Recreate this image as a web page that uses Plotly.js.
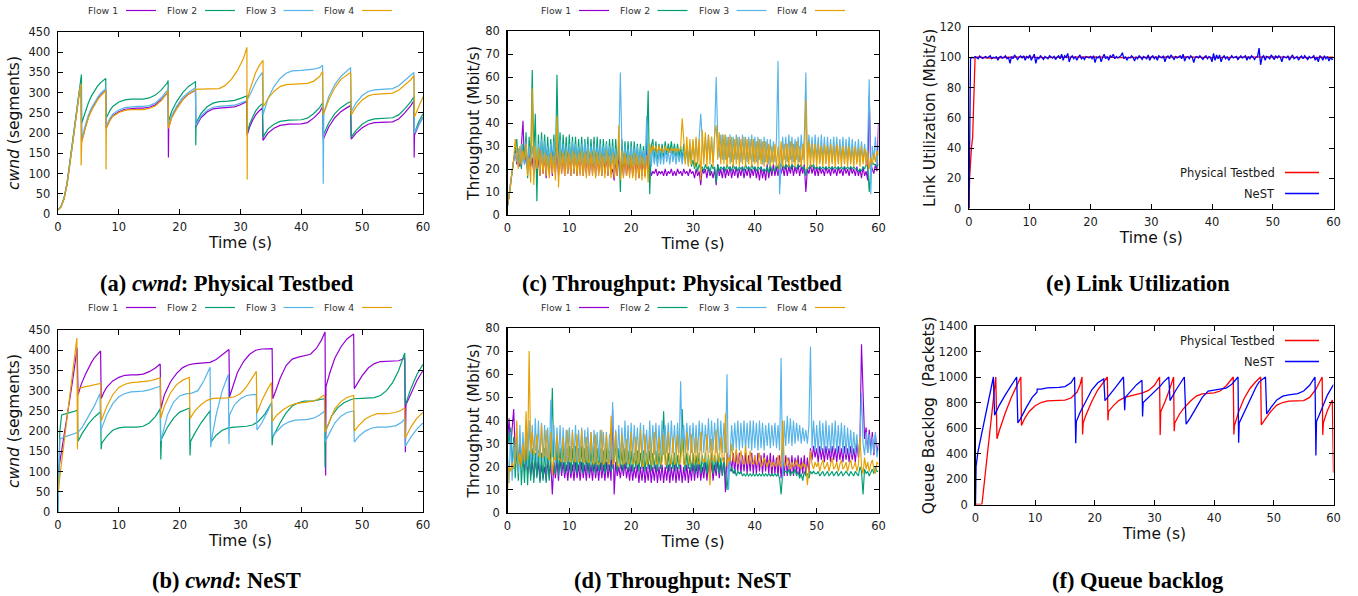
<!DOCTYPE html>
<html>
<head>
<meta charset="utf-8">
<script src="https://cdn.plot.ly/plotly-3.0.1.min.js"></script>
<style>html,body{margin:0;padding:0;background:#fff;}#chart{width:1358px;height:596px;}</style>
</head>
<body>
<div id="chart"></div>
<script>
// ---------------- DATA ----------------
const flowNames = ['Flow 1', 'Flow 2', 'Flow 3', 'Flow 4'];
const utilNames = ['Physical Testbed', 'NeST'];
const xTicks = [0, 10, 20, 30, 40, 50, 60];

// (a) cwnd: Physical Testbed  [time s, cwnd segments]
const aFlow1 = [[0,10],[0.5,18],[1,38],[1.5,75],[2,130],[2.5,190],[3,245],[3.5,300],[3.8,318],[3.9,180],[4.5,215],[5,240],[5.5,258],[6,272],[6.5,284],[7,294],[7.5,301],[7.85,306],[7.9,212],[8.5,232],[9,243],[10,253],[11,259],[12,261],[13,262],[14,262],[15,264],[16,270],[17,283],[18,300],[18.1,303],[18.15,140],[18.2,215],[18.7,240],[19.5,262],[20.5,283],[21.5,297],[22.5,305],[22.6,307],[22.65,215],[23.5,238],[24.5,252],[25.5,260],[26.5,262],[28,263],[29,265],[30,270],[31,276],[31.05,278],[31.1,195],[31.5,215],[32,232],[32.5,245],[33,254],[33.6,262],[33.7,182],[34.5,200],[35.5,212],[36.5,219],[38,222],[40,223],[41,226],[42,237],[43,252],[43.5,265],[43.6,185],[44.5,215],[45.5,238],[46.5,253],[47.5,263],[48.1,268],[48.2,185],[49,200],[50,213],[51,222],[52,226],[54,227],[55,228],[56,235],[57,250],[58,268],[58.5,280],[58.55,140],[58.6,195],[59.3,220],[60,240]];
const aFlow2 = [[0,10],[0.5,19],[1,40],[1.5,78],[2,135],[2.5,195],[3,252],[3.5,310],[3.85,345],[3.9,225],[4.5,255],[5,275],[5.5,292],[6,305],[6.5,316],[7,325],[7.5,331],[7.85,335],[7.9,236],[8.5,255],[9,266],[10,277],[11,282],[12,284],[13,284],[14,284],[15,287],[16,294],[17,307],[18,325],[18.1,330],[18.15,228],[18.7,255],[19.5,278],[20.5,300],[21.5,316],[22.5,326],[22.6,328],[22.65,170],[22.7,225],[23.5,248],[24.5,265],[25.5,274],[26.5,278],[28,279],[29,281],[30,286],[31,292],[31.05,292],[31.1,200],[31.5,222],[32,240],[32.5,255],[33,265],[33.6,273],[33.7,190],[34.5,210],[35.5,222],[36.5,229],[38,232],[40,233],[41,237],[42,248],[43,263],[43.5,275],[43.6,195],[44.5,225],[45.5,248],[46.5,263],[47.5,273],[48.1,278],[48.2,190],[49,207],[50,222],[51,231],[52,235],[54,236],[55,238],[56,245],[57,260],[58,278],[58.5,290],[58.6,200],[59.3,228],[60,248]];
const aFlow3 = [[0,10],[0.5,18],[1,39],[1.5,76],[2,132],[2.5,192],[3,248],[3.5,303],[3.8,322],[3.9,185],[4.5,220],[5,245],[5.5,262],[6,276],[6.5,288],[7,298],[7.5,305],[7.85,310],[7.9,215],[8.5,236],[9,247],[10,257],[11,263],[12,265],[13,266],[14,266],[15,268],[16,274],[17,288],[18,306],[18.1,312],[18.15,218],[18.7,244],[19.5,266],[20.5,288],[21.5,301],[22.5,310],[22.6,312],[22.65,218],[23.5,242],[24.5,256],[25.5,264],[26.5,266],[28,267],[29,269],[30,274],[31,280],[31.5,293],[32,310],[32.5,325],[33,338],[33.6,350],[33.7,245],[34.5,285],[35.5,315],[36.5,335],[37.5,348],[38.5,354],[40,355],[41,356],[42,358],[43,362],[43.5,367],[43.6,75],[43.7,250],[44.5,290],[45.5,320],[46.5,340],[47.5,355],[48.1,362],[48.2,253],[49,275],[50,293],[51,303],[52,307],[54,308],[55,310],[56,317],[57,330],[58,343],[58.5,350],[58.6,200],[59.3,220],[60,240]];
const aFlow4 = [[0,10],[0.5,17],[1,37],[1.5,73],[2,128],[2.5,188],[3,243],[3.5,298],[3.75,322],[3.8,120],[3.9,178],[4.5,213],[5,238],[5.5,256],[6,270],[6.5,282],[7,292],[7.5,300],[7.85,305],[7.9,110],[7.95,212],[8.5,230],[9,241],[10,251],[11,256],[12,258],[13,258],[14,258],[15,261],[16,267],[17,281],[18,300],[18.1,308],[18.15,212],[18.7,238],[19.5,260],[20.5,282],[21.5,297],[22.5,306],[22.6,308],[23.5,309],[25,309],[26.5,310],[27.5,318],[28.5,333],[29.5,355],[30.5,385],[31.05,412],[31.1,85],[31.15,285],[31.5,305],[32,330],[32.5,350],[33,365],[33.7,380],[33.75,265],[34.5,285],[35.5,303],[36.5,315],[37.5,320],[39,322],[41,323],[42,328],[43,340],[43.5,352],[43.6,245],[44.5,282],[45.5,312],[46.5,333],[47.5,345],[48.1,350],[48.2,245],[49,265],[50,282],[51,292],[52,296],[54,297],[55,299],[56,306],[57,318],[58,332],[58.5,342],[58.6,240],[59.3,265],[60,290]];

// (b) cwnd: NeST
const bFlow1 = [[0,95],[0.5,140],[1,185],[1.5,235],[2,285],[2.5,335],[3,390],[3.15,405],[3.3,290],[3.8,315],[4.5,340],[5,357],[5.5,370],[6,382],[6.5,391],[7,398],[7.1,280],[7.5,295],[8,308],[9,324],[10,333],[11,338],[12,339],[13,339],[14,341],[15,347],[16,356],[16.8,366],[16.9,255],[17.5,290],[18.5,322],[19.5,343],[20.5,357],[21.5,364],[22.5,367],[24,368],[25,370],[26,377],[27,388],[28.1,402],[28.2,285],[28.8,315],[29.5,345],[30.5,372],[31.5,390],[32.5,400],[33.5,403],[35.2,404],[35.3,280],[35.8,300],[36.5,330],[37.5,362],[38.5,378],[39.5,383],[40.5,386],[41.5,390],[42.5,405],[43.3,425],[43.9,445],[44,90],[44.05,310],[44.7,345],[45.5,380],[46.5,408],[47.5,428],[48.6,440],[48.7,305],[49.3,320],[50,337],[51,356],[52,367],[53,372],[54.5,373],[56,374],[57,380],[57.1,148],[57.2,265],[58,293],[59,325],[60,350]];
const bFlow2 = [[0,0],[0.3,200],[0.6,240],[1.5,243],[2.5,248],[3.2,252],[3.3,175],[4,195],[5,218],[6,235],[7,248],[7.1,155],[7.2,170],[8,187],[9,202],[10,208],[11,210],[12,210],[13,210],[14,212],[15,220],[16,236],[16.8,255],[16.9,130],[17,180],[18,210],[19,232],[20,247],[21,254],[21.6,257],[21.7,140],[21.8,175],[22.5,195],[23.5,220],[24.5,240],[25,250],[25.1,172],[26,190],[27,202],[28,208],[29,210],[30,211],[31,212],[32,215],[33,225],[34,242],[35.1,270],[35.2,165],[35.3,185],[36.5,220],[37.5,245],[38.5,262],[39.5,270],[40.5,274],[42,275],[43.8,280],[43.9,110],[44,200],[45,238],[46,258],[47,270],[48,277],[48.6,280],[50,281],[51,282],[52,283],[53,288],[54,300],[55,320],[56,350],[57,393],[57.1,265],[58,305],[59,340],[60,365]];
const bFlow3 = [[0,0],[0.3,180],[1,185],[2,190],[3,195],[3.3,197],[4,210],[5,235],[6,263],[6.9,293],[7,200],[8,240],[9,268],[10,285],[11,293],[12,297],[13,298],[14,299],[15,302],[16,306],[16.8,311],[16.9,175],[18,240],[19,272],[20,287],[21,292],[22,294],[23,300],[24,325],[25,358],[25.1,160],[25.2,175],[26,240],[27,300],[28,340],[28.1,168],[28.2,240],[29,265],[30,280],[31,288],[32,290],[32.6,290],[32.7,203],[33.5,220],[34.5,250],[35.1,270],[35.2,188],[36,200],[37,215],[38,223],[39,227],[40,228],[41,229],[42,232],[43,240],[43.8,249],[43.9,173],[44.8,200],[45.5,220],[46.5,237],[47.5,246],[48.6,250],[48.7,173],[49.5,188],[50.5,200],[51.5,207],[52.5,210],[54,210],[55.5,213],[56.5,222],[57,230],[57.1,163],[58,185],[59,205],[60,220]];
const bFlow4 = [[0,50],[0.5,110],[1,170],[1.5,230],[2,290],[2.5,350],[3.1,430],[3.2,155],[3.3,305],[4,308],[5,311],[6,315],[7,318],[7.1,225],[8,260],[9,290],[10,308],[11,316],[12,320],[13,321],[14,322],[15,324],[16,328],[16.8,332],[16.9,232],[17.5,262],[18.5,295],[19.5,315],[20.5,326],[21.6,333],[21.7,231],[22.5,250],[23.5,265],[24.5,276],[25.5,281],[27,282],[28,282],[29,285],[30,293],[31,310],[32,332],[32.6,348],[32.7,244],[33.5,275],[34.5,305],[35.1,320],[35.2,224],[36,240],[37,253],[38,262],[39,268],[40,270],[41,271],[42,274],[43,281],[43.8,290],[43.9,198],[44.8,230],[45.5,255],[46.5,273],[47.5,283],[48.6,288],[48.7,200],[49.5,215],[50.5,230],[51.5,238],[52.5,243],[54,243],[55.5,246],[56.5,252],[57,258],[57.1,183],[58,210],[59,232],[60,246]];

// sample times for throughput / utilization series (s)
const sampleTime = [
0,0.25,0.5,0.75,1,1.25,1.5,1.75,2,2.25,2.5,2.75,3,3.25,3.5,3.75,4,4.25,4.5,4.75,
5,5.25,5.5,5.75,6,6.25,6.5,6.75,7,7.25,7.5,7.75,8,8.25,8.5,8.75,9,9.25,9.5,9.75,
10,10.25,10.5,10.75,11,11.25,11.5,11.75,12,12.25,12.5,12.75,13,13.25,13.5,13.75,14,14.25,14.5,14.75,
15,15.25,15.5,15.75,16,16.25,16.5,16.75,17,17.25,17.5,17.75,18,18.25,18.5,18.75,19,19.25,19.5,19.75,
20,20.25,20.5,20.75,21,21.25,21.5,21.75,22,22.25,22.5,22.75,23,23.25,23.5,23.75,24,24.25,24.5,24.75,
25,25.25,25.5,25.75,26,26.25,26.5,26.75,27,27.25,27.5,27.75,28,28.25,28.5,28.75,29,29.25,29.5,29.75,
30,30.25,30.5,30.75,31,31.25,31.5,31.75,32,32.25,32.5,32.75,33,33.25,33.5,33.75,34,34.25,34.5,34.75,
35,35.25,35.5,35.75,36,36.25,36.5,36.75,37,37.25,37.5,37.75,38,38.25,38.5,38.75,39,39.25,39.5,39.75,
40,40.25,40.5,40.75,41,41.25,41.5,41.75,42,42.25,42.5,42.75,43,43.25,43.5,43.75,44,44.25,44.5,44.75,
45,45.25,45.5,45.75,46,46.25,46.5,46.75,47,47.25,47.5,47.75,48,48.25,48.5,48.75,49,49.25,49.5,49.75,
50,50.25,50.5,50.75,51,51.25,51.5,51.75,52,52.25,52.5,52.75,53,53.25,53.5,53.75,54,54.25,54.5,54.75,
55,55.25,55.5,55.75,56,56.25,56.5,56.75,57,57.25,57.5,57.75,58,58.25,58.5,58.75,59,59.25,59.5,59.75,
60];

// (c) Throughput: Physical Testbed (Mbit/s)
const cFlow1 = [
4,8,14,20,24,28,22,27,21,30,41,22,26,20,28,21,25,18,27,17,
26,17,29,18,27,16,30,18,28,17,31,18,29,17,30,18,28,17,29,18,
27,17,29,18,28,17,27,18,28,17,27,18,29,17,28,18,27,17,28,18,
27,17,28,18,26,17,27,18,20,15,24,17,26,18,25,17,26,17,24,18,
25,17,26,18,24,16,25,17,26,17,30,18,22,17,19,18,20,17,19,18,
19,17,20,17,19,18,20,17,19,17,20,18,19,17,20,18,19,17,20,18,
19,16,20,17,19,13,20,18,20,16,21,17,19,16,20,13,22,17,20,16,
21,16,20,17,21,16,20,17,21,16,20,17,21,16,20,17,21,16,20,17,
21,16,20,15,21,16,20,15,22,16,21,17,22,17,21,17,22,18,21,17,
22,17,21,18,22,17,21,18,22,17,21,18,22,10,20,18,22,18,21,17,
21,17,21,18,20,17,21,18,20,17,21,18,20,17,21,18,20,17,21,18,
20,17,21,18,20,17,21,17,20,16,21,17,19,15,52,22,20,18,22,19,
40];
const cFlow2 = [
4,8,13,19,23,27,33,22,29,20,31,23,36,16,34,22,63,26,44,6,
35,20,36,22,35,21,34,20,33,22,35,20,61,23,36,21,35,22,34,21,
35,21,34,22,34,21,33,22,34,21,33,22,34,21,33,22,34,21,34,22,
33,21,33,22,32,21,33,22,33,21,33,22,31,10,33,21,32,22,32,21,
32,21,32,22,31,21,31,22,30,21,30,54,9,30,33,23,32,22,31,24,
31,25,32,26,31,27,32,26,31,25,31,25,30,24,31,24,29,22,30,21,
24,20,23,19,22,20,21,19,22,20,21,18,22,20,21,14,22,19,21,20,
21,19,22,20,21,19,22,20,21,19,21,20,21,19,22,20,21,19,22,20,
21,19,21,20,21,19,20,19,21,18,22,19,20,19,22,20,23,21,22,20,
22,21,22,20,22,21,21,20,22,21,22,20,21,17,21,20,22,21,22,20,
21,20,21,20,21,20,21,20,21,20,21,20,21,20,21,20,21,20,21,20,
21,20,21,20,21,20,20,19,20,19,21,20,22,21,10,20,23,22,22,21,
22];
const cFlow3 = [
4,8,14,20,24,27,23,29,22,31,25,22,32,20,30,23,30,22,28,20,
31,20,33,21,32,22,30,21,31,20,32,22,30,21,33,20,31,22,30,21,
31,21,32,22,31,21,30,22,31,21,32,22,31,21,30,22,31,21,30,22,
31,21,30,22,31,21,30,22,30,21,29,22,28,62,30,22,30,21,29,22,
30,21,29,22,30,21,29,22,28,21,43,22,28,21,29,22,28,21,29,22,
28,22,29,23,28,22,29,23,28,22,28,23,27,22,28,23,30,24,31,25,
32,24,33,23,34,44,33,24,34,25,35,24,34,23,35,60,34,25,35,24,
35,24,34,25,35,23,34,24,35,24,34,23,35,24,34,23,34,24,35,23,
34,23,34,24,33,22,34,23,33,22,33,23,32,23,33,67,9,25,34,24,
34,23,35,24,34,23,33,24,34,23,35,24,34,62,24,35,25,34,23,35,
24,34,23,35,24,34,23,34,24,33,23,34,24,34,23,33,24,34,23,33,
24,34,23,33,24,32,23,33,24,32,23,31,24,30,59,9,30,24,34,22,
30];
const cFlow4 = [
4,8,13,19,24,33,26,20,30,22,28,24,31,17,25,14,55,13,30,20,
29,17,28,18,27,17,26,16,27,18,26,15,43,12,28,18,27,17,28,18,
27,17,28,18,27,17,27,17,28,17,27,16,28,17,27,17,28,16,27,17,
27,17,26,16,28,17,26,16,27,16,26,17,39,15,28,16,27,17,26,16,
26,16,27,15,26,16,26,15,25,16,26,14,31,27,30,28,30,27,30,28,
29,27,30,28,29,27,29,28,29,27,29,28,29,42,33,22,34,21,33,22,
33,21,34,22,33,15,37,22,36,21,35,22,34,21,35,39,24,36,22,35,
22,35,21,34,22,34,21,33,22,34,21,33,22,34,21,33,22,33,21,33,
22,32,21,33,22,32,21,32,22,31,21,30,22,31,21,30,20,32,21,31,
22,31,21,32,22,31,21,32,22,30,21,31,22,50,20,32,21,31,22,31,
21,31,22,30,21,31,22,30,21,31,22,30,21,31,22,30,21,30,22,30,
21,30,22,29,21,30,22,29,21,30,22,29,21,28,20,25,22,27,23,28,
26];

// (d) Throughput: NeST (Mbit/s)
const dFlow1 = [
30,41,28,35,45,26,33,22,30,20,26,18,28,17,25,16,22,15,24,16,
22,14,21,15,20,14,23,15,22,8,22,15,23,14,24,16,22,15,21,14,
22,15,21,14,22,15,21,14,22,15,21,14,22,15,21,14,22,15,21,14,
22,15,21,14,22,15,21,14,45,8,22,16,20,15,21,16,22,15,20,14,
21,14,20,15,21,13,20,14,21,13,20,14,21,13,20,14,21,13,20,14,
21,13,20,14,21,13,20,14,21,13,20,14,21,13,20,14,21,13,20,14,
22,14,21,15,22,14,20,15,22,14,21,15,22,14,21,16,23,15,22,16,
24,9,26,17,25,18,26,17,27,18,26,17,25,18,26,17,25,18,26,17,
25,17,26,18,25,17,26,18,25,17,26,16,25,17,24,16,25,15,24,16,
25,16,24,17,25,16,24,17,25,16,24,17,25,16,24,17,28,23,29,24,
28,22,29,23,28,22,29,23,28,22,29,23,28,22,29,23,28,22,29,23,
28,22,29,23,28,22,30,24,31,73,52,32,37,26,36,27,35,25,34,26,
30];
const dFlow2 = [
36,30,37,20,33,15,28,14,30,12,26,13,29,12,27,14,28,13,26,15,
27,13,26,14,28,13,27,14,27,54,20,17,29,16,28,18,30,17,28,18,
29,17,28,18,29,17,28,18,29,17,28,18,29,17,28,18,29,17,28,18,
28,18,27,17,28,18,27,18,20,30,27,18,28,19,27,18,28,19,27,18,
27,18,26,19,27,18,26,19,27,18,26,19,27,18,26,19,27,18,26,19,
26,44,25,19,26,18,25,19,26,18,25,19,26,45,25,18,26,19,25,18,
26,17,25,18,26,17,25,18,26,17,25,18,26,17,25,18,26,17,24,16,
24,17,10,19,18,20,17,19,16,18,17,18,16,17,16,17,16,17,16,17,
16,17,16,17,16,17,16,17,16,17,16,17,16,17,16,17,15,8,17,18,
18,17,19,16,18,17,19,16,18,15,17,14,18,16,17,15,18,17,18,17,
17,18,16,17,18,16,17,18,16,17,18,16,17,18,16,17,18,16,17,18,
17,16,18,17,16,18,17,16,20,18,8,19,17,18,16,18,19,17,20,18,
18];
const dFlow3 = [
25,13,35,14,30,22,33,17,38,20,35,21,36,20,40,22,38,23,41,22,
40,22,39,23,38,22,37,22,49,24,38,22,37,23,38,22,37,22,36,22,
37,22,36,23,38,22,36,23,37,22,36,23,37,22,35,23,36,22,35,23,
36,22,35,23,35,22,34,23,48,22,36,23,38,22,37,23,40,22,38,23,
39,24,38,23,37,24,39,23,38,24,36,23,40,24,38,25,39,24,38,25,
40,25,38,26,39,25,40,26,38,25,39,26,57,27,38,26,39,27,38,26,
39,26,38,25,40,27,39,26,38,27,41,26,40,27,39,26,41,27,40,26,
39,26,60,10,25,38,27,39,28,40,27,39,28,40,27,39,28,40,27,40,
28,39,27,40,28,39,27,38,29,39,28,38,29,39,28,38,27,67,15,40,
29,42,30,41,29,40,30,39,31,38,30,37,31,36,30,38,72,28,40,27,
38,26,40,27,39,26,40,27,38,26,39,27,40,26,38,27,39,26,38,25,
37,26,36,25,35,26,34,25,33,52,30,25,35,26,34,25,33,26,35,24,
28];
const dFlow4 = [
10,20,18,22,19,24,40,21,26,20,30,22,44,23,70,26,35,25,27,34,
25,24,38,24,25,36,24,23,35,16,24,23,34,24,23,22,33,23,22,36,
23,22,35,23,22,34,22,23,36,22,22,33,22,22,35,22,21,34,22,21,
22,36,21,22,34,21,22,42,21,22,35,21,20,22,34,21,22,32,21,22,
35,21,22,33,21,22,36,21,20,34,21,22,33,21,21,35,22,21,33,21,
22,34,21,21,35,22,21,33,21,22,34,21,22,32,21,21,35,22,21,34,
22,21,33,22,21,35,22,23,22,34,23,12,32,23,22,36,23,22,33,23,
22,43,20,24,22,30,23,22,28,21,23,27,22,21,29,22,21,27,22,21,
25,21,22,26,20,21,24,22,20,23,21,20,22,21,20,25,21,20,40,22,
20,24,21,19,22,20,21,23,20,21,19,22,20,21,12,20,27,21,19,22,
20,22,18,21,23,19,20,22,18,21,24,19,20,22,18,21,23,19,20,22,
18,21,23,19,20,22,18,21,33,20,17,24,19,22,18,21,23,19,17,22,
21];

// (e) Link Utilization (Mbit/s)
const ePhysical = [[0,0],[0.1,20],[0.4,40],[0.5,47],[0.6,47],[1,100],[1.5,100],[3.5,99.5],[6,100],[9,100.3],[12,99.8],[15,100],[20,100.2],[25,99.8],[30,100],[35,100.2],[40,99.8],[45,100],[50,100.2],[55,99.8],[60,100]];
const eNest = [
0,99,100,99.5,100.5,100,99,100.8,100,99.2,100,100.5,99.5,100,101,99,100,99.6,100.3,98,
100,100.6,99.4,100,101,99,100,96,100.5,99,101.5,100,98.5,100,100.8,99.5,101,98,100.4,99.5,
101.5,98,100,102,96,100,99,101,100,98.5,100.5,100,99,101,100,99.5,100.6,98.5,100,101,
99,102,98,101,100,102.5,97,100,101,99,100.5,98,100,101.5,99,100,98.5,100.4,100,99.5,
100.5,99,101,96.5,100,99.5,101,97,100,102,99,100.5,98,101,100,102,99,100.5,99.5,100,
101,103,99,100.5,98,100,99.5,101,100,97.5,100.3,99,101,100,98.5,100.5,100,99,101.5,98,
100,101,99,100.5,98,101,100,99.5,101,97,100,100.8,99,101.5,100,98.5,100.5,99.5,100,101,
99,102,97.5,100,100.5,99,101,100,96.5,100,100.5,99.5,101,100,98.5,100,101,99,100.5,100,
97,102.5,98,101.5,99,101.5,97,100,101,99,100.5,98,100,101,99.5,100,100.5,98.5,100,101,
99.5,100,101,98,100.5,99,101,100,98.5,100,100.5,106,95,100,101,98,100.5,100,99,101.5,
100,98.5,100.8,99.5,101,100,97,100.5,100,99.5,101,98,100,101.5,99,100,100.5,98,100,100.8,
99,101,100,98.5,100.5,99.5,100,101,98,100,97,101,100,98,101,99,100.5,97.5,100,98.5,
99];

// (f) Queue backlog (packets)
const fPhysical = [[0,0],[1,0],[1.1,10],[3.4,1000],[3.6,515],[4,580],[5,720],[6,840],[7,940],[7.5,990],[7.6,1000],[7.7,620],[8.3,680],[9,730],[10,775],[11,800],[12,812],[13,815],[14,815],[15,818],[16,835],[17,880],[17.5,935],[17.85,1000],[17.95,550],[18.05,640],[18.5,700],[19.5,810],[20.5,900],[21.5,960],[22.1,1000],[22.2,660],[22.3,730],[23,770],[24,815],[25,840],[26,850],[27,860],[28,875],[29,895],[30,935],[30.85,1000],[30.95,545],[31.05,730],[31.8,810],[32.5,900],[33.2,1000],[33.3,575],[33.4,640],[34.2,710],[35,760],[36,810],[37,850],[38,868],[39,872],[40,875],[41,890],[42,930],[43.2,1000],[43.3,550],[43.4,620],[44.2,740],[45,830],[46,910],[47,965],[47.8,1000],[47.9,625],[48.7,680],[49.5,730],[50.5,780],[51.5,800],[52.5,810],[54,810],[55,815],[56,840],[57,900],[58.1,1000],[58.2,545],[58.3,640],[59,740],[59.7,820],[59.8,820],[60,250]];
const fNest = [[0,0],[0.1,300],[0.4,410],[1,540],[2,760],[3,1000],[3.2,700],[4,780],[5,860],[6,930],[6.9,1000],[7.1,640],[7.5,670],[8.5,760],[9.5,840],[10.3,880],[10.35,905],[11,905],[12,915],[13,917],[14,918],[15,925],[16,955],[16.6,1000],[16.8,480],[16.9,650],[17.5,720],[18.5,810],[19.5,900],[20.5,955],[21.5,985],[21.7,815],[22.5,860],[23.5,920],[24.8,1000],[25,740],[25.1,840],[26,890],[27,940],[27.9,975],[28,690],[28.1,800],[29,840],[30,880],[31,930],[31.5,960],[32.4,1000],[32.6,815],[33.5,890],[35,1000],[35.3,630],[36,680],[37,760],[38,840],[39,890],[40,900],[41,905],[42,912],[43,945],[44,1000],[44.1,485],[44.2,640],[45,720],[46,830],[47,920],[47.5,960],[48.6,1000],[48.8,710],[49.5,760],[50.5,820],[51.5,850],[52.5,860],[54,870],[55,890],[56,935],[56.9,1000],[57.05,385],[57.15,650],[58,750],[59,860],[60,940]];

// ---------------- STYLE / LAYOUT ----------------
const W = 1358, H = 596;
const flowColors = ['#9400d3', '#009e73', '#56b4e9', '#e69f00'];
const utilColors = ['#ff0000', '#0000ff'];
const tickFont = {family: 'DejaVu Sans', size: 11.5, color: '#1a1a1a'};
const titleFont = {family: 'DejaVu Sans', size: 15.5, color: '#111'};
const capFont = {family: 'Liberation Serif', size: 22.5, color: '#000'};
const legFont = {family: 'DejaVu Sans', size: 9.3, color: '#333'};
const legFont2 = {family: 'DejaVu Sans', size: 11.5, color: '#1a1a1a'};

// panel plot boxes in pixels [left, right, top, bottom]
const boxes = {
  a: [58, 423, 32, 214],
  c: [507.5, 878.5, 31, 215],
  e: [969, 1333.5, 27, 208.5],
  b: [58, 423, 330, 512],
  d: [507.5, 878.5, 328, 513],
  f: [975.5, 1333.5, 326, 504.5]
};
const xd = b => [b[0] / W, b[1] / W];
const yd = b => [1 - b[3] / H, 1 - b[2] / H];

function xAxis(b, anchor) {
  return {domain: xd(b), anchor: anchor, range: [0, 60], tickvals: xTicks, ticks: 'inside', ticklen: 5,
    tickwidth: 1, tickcolor: '#000', showline: true, linecolor: '#000', linewidth: 1.3, mirror: 'ticks',
    showgrid: false, zeroline: false, tickfont: tickFont, ticklabelstandoff: 2, fixedrange: true,
    title: {text: 'Time (s)', font: titleFont, standoff: 2}};
}
function yAxis(b, anchor, range, dtick, title, standoff) {
  return {domain: yd(b), anchor: anchor, range: range, dtick: dtick, tick0: 0, ticks: 'inside', ticklen: 5,
    tickwidth: 1, tickcolor: '#000', showline: true, linecolor: '#000', linewidth: 1.3, mirror: 'ticks',
    showgrid: false, zeroline: false, tickfont: tickFont, ticklabelstandoff: 4, fixedrange: true,
    title: {text: title, font: titleFont, standoff: standoff}};
}

const traces = [];
function pairTrace(pairs, color, xa, ya, name, width) {
  traces.push({x: pairs.map(p => p[0]), y: pairs.map(p => p[1]), type: 'scatter', mode: 'lines',
    line: {color: color, width: width || 1.2}, name: name, xaxis: xa, yaxis: ya, hoverinfo: 'skip'});
}
function seriesTrace(vals, color, xa, ya, name, width) {
  traces.push({x: sampleTime, y: vals, type: 'scatter', mode: 'lines',
    line: {color: color, width: width || 1.15}, name: name, xaxis: xa, yaxis: ya, hoverinfo: 'skip'});
}

[aFlow1, aFlow2, aFlow3, aFlow4].forEach((s, i) => pairTrace(s, flowColors[i], 'x', 'y', flowNames[i]));
[cFlow1, cFlow2, cFlow3, cFlow4].forEach((s, i) => seriesTrace(s, flowColors[i], 'x2', 'y2', flowNames[i]));
pairTrace(ePhysical, utilColors[0], 'x3', 'y3', utilNames[0], 1.3);
seriesTrace(eNest, utilColors[1], 'x3', 'y3', utilNames[1], 1.3);
[bFlow1, bFlow2, bFlow3, bFlow4].forEach((s, i) => pairTrace(s, flowColors[i], 'x4', 'y4', flowNames[i]));
[dFlow1, dFlow2, dFlow3, dFlow4].forEach((s, i) => seriesTrace(s, flowColors[i], 'x5', 'y5', flowNames[i]));
pairTrace(fPhysical, utilColors[0], 'x6', 'y6', utilNames[0], 1.3);
pairTrace(fNest, utilColors[1], 'x6', 'y6', utilNames[1], 1.3);

const annotations = [];
const shapes = [];
const px = v => v / W, py = v => 1 - v / H;

// flow legends (text then line sample), like gnuplot keys
function flowLegend(textRight, lineL, y) {
  for (let i = 0; i < 4; i++) {
    annotations.push({xref: 'paper', yref: 'paper', x: px(textRight[i]), y: py(y), xanchor: 'right', yanchor: 'middle',
      text: flowNames[i], showarrow: false, font: legFont});
    shapes.push({type: 'line', xref: 'paper', yref: 'paper', x0: px(lineL[i]), x1: px(lineL[i] + 30), y0: py(y), y1: py(y),
      line: {color: flowColors[i], width: 1.2}});
  }
}
flowLegend([120, 198.5, 277.5, 356], [126, 205, 283.5, 362], 10.5);
flowLegend([573, 651.5, 730.5, 809], [579, 657.5, 736.5, 815], 10.5);
flowLegend([120, 198.5, 277.5, 356], [126, 205, 283.5, 362], 307.5);
flowLegend([573, 651.5, 730.5, 809], [579, 657.5, 736.5, 815], 307.5);

function utilLegend(y1, y2) {
  [y1, y2].forEach((y, i) => {
    annotations.push({xref: 'paper', yref: 'paper', x: px(1276.5), y: py(y), xanchor: 'right', yanchor: 'middle',
      text: utilNames[i], showarrow: false, font: legFont2});
    shapes.push({type: 'line', xref: 'paper', yref: 'paper', x0: px(1285), x1: px(1319), y0: py(y), y1: py(y),
      line: {color: utilColors[i], width: 1.3}});
  });
}
utilLegend(172.5, 193.5);
utilLegend(340.5, 361.5);

// captions
const captions = [
  ['<b>(a) <i>cwnd</i>: Physical Testbed</b>', 227, 283],
  ['<b>(c) Throughput: Physical Testbed</b>', 682, 283],
  ['<b>(e) Link Utilization</b>', 1137.5, 283],
  ['<b>(b) <i>cwnd</i>: NeST</b>', 227, 580],
  ['<b>(d) Throughput: NeST</b>', 682.5, 580],
  ['<b>(f) Queue backlog</b>', 1137.5, 580]
];
captions.forEach(c => annotations.push({xref: 'paper', yref: 'paper', x: px(c[1]), y: py(c[2]), xanchor: 'center',
  yanchor: 'middle', text: c[0], showarrow: false, font: capFont}));

const layout = {
  width: W, height: H, margin: {l: 0, r: 0, t: 0, b: 0, pad: 0},
  paper_bgcolor: '#fff', plot_bgcolor: '#fff', showlegend: false,
  xaxis: xAxis(boxes.a, 'y'), yaxis: yAxis(boxes.a, 'x', [0, 450], 50, '<i>cwnd</i> (segments)', 5),
  xaxis2: xAxis(boxes.c, 'y2'), yaxis2: yAxis(boxes.c, 'x2', [0, 80], 10, 'Throughput (Mbit/s)', 1),
  xaxis3: xAxis(boxes.e, 'y3'), yaxis3: yAxis(boxes.e, 'x3', [0, 120], 20, 'Link Utilization (Mbit/s)', 0),
  xaxis4: xAxis(boxes.b, 'y4'), yaxis4: yAxis(boxes.b, 'x4', [0, 450], 50, '<i>cwnd</i> (segments)', 5),
  xaxis5: xAxis(boxes.d, 'y5'), yaxis5: yAxis(boxes.d, 'x5', [0, 80], 10, 'Throughput (Mbit/s)', 1),
  xaxis6: xAxis(boxes.f, 'y6'), yaxis6: yAxis(boxes.f, 'x6', [0, 1400], 200, 'Queue Backlog  (Packets)', 0),
  annotations: annotations, shapes: shapes
};

Plotly.newPlot('chart', traces, layout, {displayModeBar: false, staticPlot: true});
</script>
</body>
</html>
